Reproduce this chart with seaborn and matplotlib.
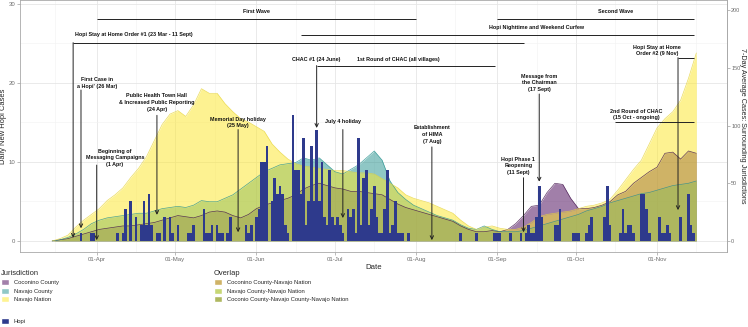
import matplotlib
matplotlib.use("Agg")
import matplotlib.pyplot as plt
import matplotlib.dates as mdates
from matplotlib.colors import to_rgb
from matplotlib.patches import Patch
from matplotlib.ticker import MultipleLocator
import numpy as np
import pandas as pd
import seaborn as sns

# daily new Hopi cases (days not listed had no cases)
hopi_dates = [
    "2020-03-26", "2020-03-30", "2020-03-31",
    "2020-04-09", "2020-04-11", "2020-04-12", "2020-04-14", "2020-04-16", "2020-04-18",
    "2020-04-19", "2020-04-20", "2020-04-21", "2020-04-22", "2020-04-24", "2020-04-25",
    "2020-04-27", "2020-04-29", "2020-04-30",
    "2020-05-02", "2020-05-06", "2020-05-07", "2020-05-08", "2020-05-12", "2020-05-13",
    "2020-05-14", "2020-05-15", "2020-05-17", "2020-05-18", "2020-05-19", "2020-05-21",
    "2020-05-22", "2020-05-28", "2020-05-29", "2020-05-30",
    "2020-06-01", "2020-06-02", "2020-06-03", "2020-06-04", "2020-06-05", "2020-06-07",
    "2020-06-08", "2020-06-09", "2020-06-10", "2020-06-11", "2020-06-12", "2020-06-13",
    "2020-06-15", "2020-06-16", "2020-06-17", "2020-06-18", "2020-06-19", "2020-06-20",
    "2020-06-21", "2020-06-22", "2020-06-23", "2020-06-24", "2020-06-25", "2020-06-26",
    "2020-06-27", "2020-06-28", "2020-06-29", "2020-06-30",
    "2020-07-01", "2020-07-02", "2020-07-03", "2020-07-04", "2020-07-06", "2020-07-07",
    "2020-07-08", "2020-07-09", "2020-07-10", "2020-07-11", "2020-07-12", "2020-07-13",
    "2020-07-14", "2020-07-15", "2020-07-16", "2020-07-17", "2020-07-18", "2020-07-19",
    "2020-07-20", "2020-07-21", "2020-07-22", "2020-07-23", "2020-07-24", "2020-07-25",
    "2020-07-26", "2020-07-27", "2020-07-29",
    "2020-08-18", "2020-08-24", "2020-08-31",
    "2020-09-01", "2020-09-02", "2020-09-06", "2020-09-10", "2020-09-12", "2020-09-13",
    "2020-09-14", "2020-09-15", "2020-09-16", "2020-09-17", "2020-09-18", "2020-09-23",
    "2020-09-24", "2020-09-25", "2020-09-30",
    "2020-10-01", "2020-10-02", "2020-10-05", "2020-10-06", "2020-10-07", "2020-10-12",
    "2020-10-13", "2020-10-14", "2020-10-18", "2020-10-19", "2020-10-20", "2020-10-21",
    "2020-10-22", "2020-10-23", "2020-10-26", "2020-10-27", "2020-10-28", "2020-10-29",
    "2020-11-02", "2020-11-03", "2020-11-04", "2020-11-05", "2020-11-06", "2020-11-10",
    "2020-11-13", "2020-11-14", "2020-11-15",
]
hopi_cases = [
    1, 1, 1,
    1, 1, 4, 5, 3, 2,
    5, 2, 6, 2, 1, 1,
    3, 3, 1,
    2, 1, 1, 2, 4, 1,
    1, 2, 2, 1, 1, 1,
    3, 2, 1, 2,
    3, 4, 10, 10, 12, 5,
    8, 6, 7, 6, 2, 1,
    16, 9, 9, 6, 13, 2,
    5, 12, 5, 14, 5, 10,
    3, 2, 9, 3,
    2, 3, 2, 1, 4, 3,
    4, 1, 13, 2, 8, 9,
    2, 4, 7, 3, 1, 1,
    4, 9, 1, 2, 5, 1,
    1, 1, 1,
    1, 1, 1,
    1, 1, 1, 1, 1, 2,
    1, 1, 3, 7, 3, 2,
    2, 4, 1,
    1, 1, 1, 2, 3, 3,
    7, 2, 1, 4, 1, 2,
    2, 1, 6, 6, 4, 1,
    3, 1, 1, 2, 1, 3,
    6, 2, 1,
]

# 7-day average cases of the surrounding jurisdictions, read every 3 days (15 Mar - 16 Nov)
avg_dates = pd.date_range("2020-03-15", "2020-11-16", freq="3D")
coconino_county = [
    0, 1, 2, 4, 6, 8, 10, 11, 12, 13,
    13, 14, 15, 16, 18, 20, 22, 21, 20, 22,
    25, 26, 25, 22, 20, 23, 28, 31, 33, 35,
    37, 40, 45, 48, 50, 48, 46, 45, 43, 43,
    42, 41, 40, 36, 32, 29, 27, 25, 23, 21,
    19, 17, 13, 10, 8, 8, 9, 8, 10, 15,
    22, 30, 31, 42, 50, 49, 37, 28, 28, 29,
    31, 34, 40, 43, 50, 55, 60, 64, 76, 77,
    71, 78, 76,
]
navajo_county = [
    0, 1, 3, 6, 10, 15, 18, 20, 21, 22,
    23, 24, 24, 26, 28, 29, 30, 29, 31, 35,
    34, 34, 37, 40, 45, 50, 55, 60, 63, 66,
    67, 68, 72, 70, 72, 66, 60, 58, 62, 66,
    72, 78, 70, 52, 42, 36, 31, 28, 25, 22,
    20, 18, 14, 11, 10, 13, 10, 8, 8, 8,
    9, 11, 13, 15, 17, 19, 21, 23, 26, 28,
    30, 33, 35, 37, 39, 41, 42, 44, 46, 48,
    49, 50, 52,
]
navajo_nation = [
    0, 2, 5, 12, 18, 23, 28, 35, 40, 46,
    55, 63, 73, 87, 101, 110, 113, 108, 118, 132,
    128, 128, 119, 112, 106, 103, 99, 95, 84, 77,
    71, 67, 65, 64, 63, 62, 61, 61, 60, 59,
    59, 58, 54, 50, 46, 40, 37, 35, 33, 30,
    27, 24, 18, 13, 10, 12, 13, 11, 10, 10,
    12, 16, 21, 23, 24, 25, 26, 28, 30, 31,
    33, 36, 44, 53, 62, 70, 84, 98, 106, 112,
    122, 141, 163,
]

jurisdictions = ["Coconino County", "Navajo County", "Navajo Nation"]
overlaps = ["Coconino County-Navajo Nation", "Navajo County-Navajo Nation",
            "Coconio County-Navajo County-Navajo Nation"]
base_colors = ["#440154", "#21908C", "#FDE725"]
hopi_color = "#2E3A8C"
ALPHA = 0.5
K = 6.85  # secondary axis factor

sns.set_theme(style="whitegrid")
plt.rcParams["font.family"] = ["Liberation Sans", "DejaVu Sans"]

fig = plt.figure(figsize=(7.48, 3.27), dpi=100)
ax = fig.add_axes([20 / 748, 75 / 327, 707 / 748, 252 / 327])
ax.set_facecolor("white")

D = pd.Timestamp

# areas (scaled onto the left axis, shown through the secondary axis)
edge_colors = ["#3b0a45", "#21908C", "#e6d43a"]
for vals, col, ec in zip([coconino_county, navajo_county, navajo_nation], base_colors, edge_colors):
    y = np.array(vals) / K
    ax.fill_between(avg_dates, y, color=col, alpha=ALPHA, linewidth=0, zorder=1)
    sns.lineplot(x=avg_dates, y=y, ax=ax, color=ec, linewidth=0.5, alpha=0.8, zorder=1.5)

# Hopi daily bars
ax.bar(pd.to_datetime(hopi_dates), hopi_cases, width=1.0, color=hopi_color,
       linewidth=0, zorder=3)

# annotations
LC = "#222222"
LW = 0.7


def label(x, y, s):
    ax.text(D(x), y, s, ha="center", va="center", fontsize=3.9, fontweight="bold",
            linespacing=1.45, color="#111111", zorder=6)


def hline(x0, x1, y):
    ax.plot([D(x0), D(x1)], [y, y], color=LC, lw=LW, zorder=5, solid_capstyle="butt")


def arrow(x, y0, y1):
    ax.annotate("", xy=(D(x), y1), xytext=(D(x), y0),
                arrowprops=dict(arrowstyle="->", color=LC, lw=LW, shrinkA=0, shrinkB=0,
                                mutation_scale=6), zorder=5)


label("2020-06-01", 29.0, "First Wave")
hline("2020-04-01", "2020-08-01", 28.1)
label("2020-10-16", 29.0, "Second Wave")
hline("2020-09-01", "2020-11-15", 28.1)
label("2020-09-16", 27.0, "Hopi Nighttime and Weekend Curfew")
hline("2020-06-18", "2020-11-15", 26.1)
label("2020-04-15", 26.1, "Hopi Stay at Home Order #1 (23 Mar - 11 Sept)")
hline("2020-03-23", "2020-09-11", 25.1)
arrow("2020-03-23", 25.1, 0.4)
label("2020-04-01", 20.0, "First Case in\na Hopi' (26 Mar)")
arrow("2020-03-26", 19.1, 1.6)
label("2020-04-08", 10.5, "Beginning of\nMessaging Campaigns\n(1 Apr)")
arrow("2020-04-01", 9.6, 0.1)
label("2020-04-24", 17.5, "Public Health Town Hall\n& Increased Public Reporting\n(24 Apr)")
arrow("2020-04-24", 15.9, 3.3)
label("2020-05-25", 15.0, "Memorial Day holiday\n(25 May)")
arrow("2020-05-25", 14.1, 1.1)
label("2020-06-24", 23.0, "CHAC #1 (24 June)")
label("2020-07-25", 23.0, "1st Round of CHAC (all villages)")
hline("2020-06-24", "2020-08-31", 22.2)
arrow("2020-06-24", 22.2, 14.3)
label("2020-07-04", 15.1, "July 4 holiday")
arrow("2020-07-04", 14.1, 2.9)
label("2020-08-07", 13.5, "Establishment\nof HIMA\n(7 Aug)")
arrow("2020-08-07", 11.9, 0.1)
label("2020-09-09", 9.5, "Hopi Phase 1\nReopening\n(11 Sept)")
arrow("2020-09-11", 8.0, 1.1)
label("2020-09-17", 20.0, "Message from\nthe Chairman\n(17 Sept)")
arrow("2020-09-17", 18.6, 7.5)
label("2020-11-01", 24.1, "Hopi Stay at Home\nOrder #2 (9 Nov)")
hline("2020-11-09", "2020-11-15", 23.2)
arrow("2020-11-09", 23.2, 3.9)
label("2020-10-24", 16.0, "2nd Round of CHAC\n(15 Oct - ongoing)")
hline("2020-10-16", "2020-11-15", 15.1)

# axes, ticks and grid
ax.set_xlim(D("2020-03-02 17:00"), D("2020-11-27 17:00"))
ax.set_ylim(-1.4, 30.5)
ax.yaxis.set_major_locator(MultipleLocator(10))
ax.yaxis.set_minor_locator(MultipleLocator(5))
ax.xaxis.set_major_locator(mdates.MonthLocator(bymonth=range(4, 12)))
ax.xaxis.set_minor_locator(mdates.MonthLocator(bymonthday=16))
ax.xaxis.set_major_formatter(mdates.DateFormatter("%d-%b"))
ax.grid(which="major", color="#e6e6e6", linewidth=0.6)
ax.grid(which="minor", color="#f2f2f2", linewidth=0.4)
ax.set_axisbelow(True)
for sp in ax.spines.values():
    sp.set_color("#a8a8a8")
    sp.set_linewidth(0.6)
ax.tick_params(which="major", length=2, width=0.5, color="#a0a0a0", labelsize=4.3,
               labelcolor="#6b6b6b", pad=1.5, left=True, bottom=True)
ax.tick_params(which="minor", length=0)
ax.set_xlabel("Date", fontsize=5.6, labelpad=1.5)
ax.set_ylabel("Daily New Hopi Cases", fontsize=5.4)
ax.yaxis.set_label_coords(-0.019, 0.5)

sec = ax.secondary_yaxis("right", functions=(lambda v: v * K, lambda v: v / K))
sec.set_yticks([0, 50, 100, 150, 200])
sec.spines["right"].set_color("#a8a8a8")
sec.spines["right"].set_linewidth(0.6)
sec.tick_params(length=2, width=0.5, color="#a0a0a0", labelsize=4.0, labelcolor="#6b6b6b", pad=1.0)
sec.set_ylabel("7-Day Average Cases: Surrounding Jurisdictions", fontsize=5.2, rotation=270,
               labelpad=4.2)


# legends
def blend(color, under):
    return tuple(ALPHA * np.array(to_rgb(color)) + (1 - ALPHA) * np.array(under))


white = (1.0, 1.0, 1.0)
cc_only = blend(base_colors[0], white)
nc_only = blend(base_colors[1], white)
nn_only = blend(base_colors[2], white)
cc_nn = blend(base_colors[2], cc_only)
nc_nn = blend(base_colors[2], nc_only)
all_three = blend(base_colors[2], blend(base_colors[1], cc_only))

leg_kw = dict(loc="upper left", frameon=False, fontsize=4.2, title_fontsize=5.4,
              handlelength=1.35, handleheight=1.15, handletextpad=0.8, labelspacing=0.42,
              borderpad=0, borderaxespad=0, alignment="left")
fig.legend(handles=[Patch(facecolor=c, label=l) for c, l in
                    zip([cc_only, nc_only, nn_only], jurisdictions)],
           title="Jurisdiction", bbox_to_anchor=(1 / 748, 1 - 270 / 327), **leg_kw)
fig.legend(handles=[Patch(facecolor=c, label=l) for c, l in
                    zip([cc_nn, nc_nn, all_three], overlaps)],
           title="Overlap", bbox_to_anchor=(214 / 748, 1 - 270 / 327), **leg_kw)
fig.legend(handles=[Patch(facecolor=hopi_color, label="Hopi")],
           bbox_to_anchor=(1 / 748, 1 - 318 / 327), **leg_kw)

fig.savefig("out.png", dpi=100)
